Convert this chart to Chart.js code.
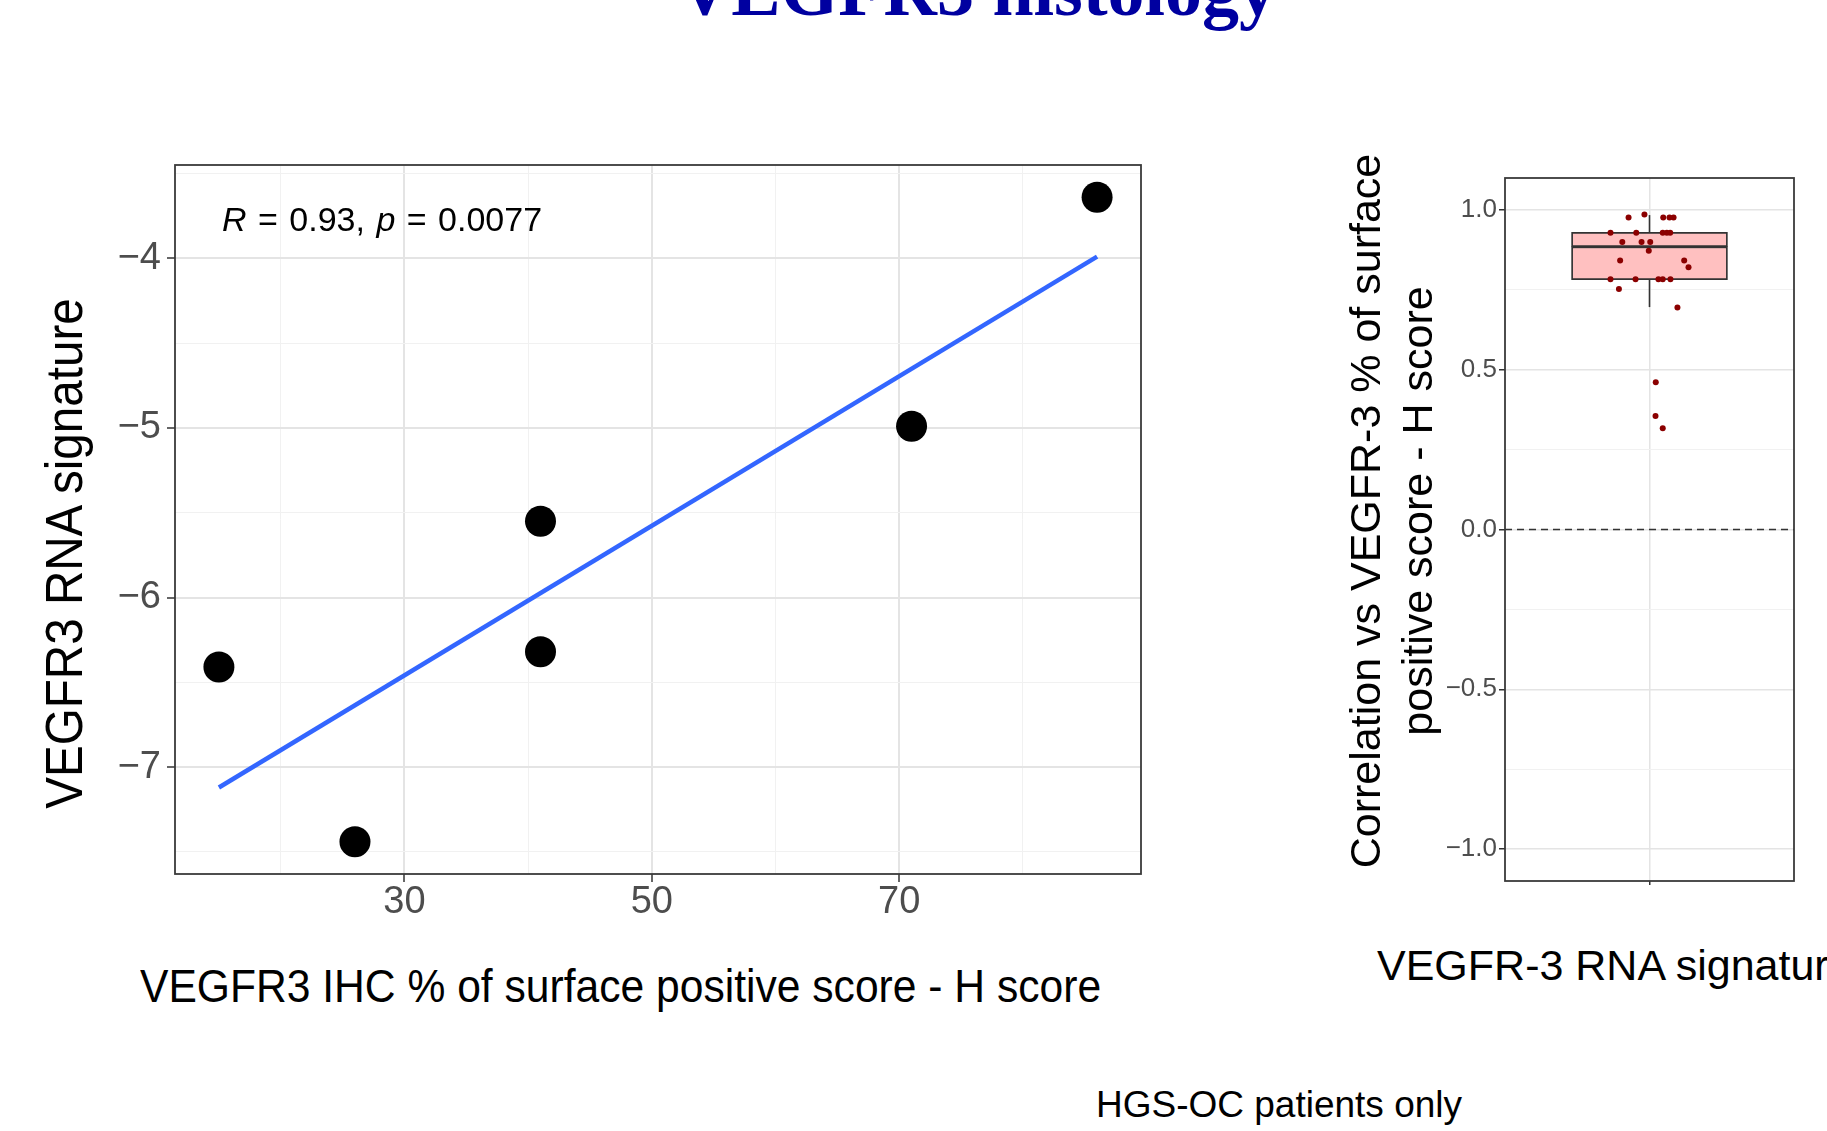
<!DOCTYPE html>
<html>
<head>
<meta charset="utf-8">
<script src="https://cdn.jsdelivr.net/npm/chart.js"></script>
<style>
  html, body { margin: 0; padding: 0; width: 1827px; height: 1131px; overflow: hidden; background: #fff; }
  body { font-family: "Liberation Sans", Arial, sans-serif; }
  .box { position: absolute; }
  .txt { position: absolute; white-space: nowrap; color: #000; transform-origin: 0 0; }
</style>
</head>
<body>

<div class="txt" id="pageTitle" style="left:577px;top:-47px;width:800px;text-align:center;font-family:'Liberation Serif',serif;font-weight:bold;font-size:74px;line-height:74px;color:#0000A0">VEGFR3 histology</div>

<div class="box" style="left:0;top:100px;width:1160px;height:820px"><canvas id="chart-scatter"></canvas></div>
<div class="box" style="left:1300px;top:100px;width:527px;height:820px"><canvas id="chart-box"></canvas></div>

<!-- axis titles and notes -->
<div class="txt" style="left:33px;top:828px;width:600px;text-align:center;font-size:52px;line-height:62px;transform:rotate(-90deg) scaleX(0.915)">VEGFR3 RNA signature</div>
<div class="txt" style="left:140px;top:958px;font-size:46px;line-height:56px;transform:scaleX(0.926)">VEGFR3 IHC % of surface positive score - H score</div>
<div class="txt" style="left:222px;top:199px;font-size:34px;line-height:40px;word-spacing:2px"><i>R</i> = 0.93, <i>p</i> = 0.0077</div>
<div class="txt" style="left:1339px;top:911px;width:800px;text-align:center;font-size:43px;line-height:52px;transform:rotate(-90deg)">Correlation vs VEGFR-3 % of surface<br>positive score - H score</div>
<div class="txt" style="left:1377px;top:939px;font-size:43px;line-height:52px">VEGFR-3 RNA signature</div>
<div class="txt" style="left:1096px;top:1082px;font-size:37px;line-height:46px">HGS-OC patients only</div>

<script>
// left panel: IHC score vs RNA signature
var ihcScore = [15, 26, 41, 41, 71, 86];
var rnaSignature = [-6.41, -7.44, -5.55, -6.32, -4.99, -3.64];
var fitX = [15, 86];
var fitY = [-7.12, -3.99];
var xGridLeft = [20, 30, 40, 50, 60, 70, 80];
var xLabelsLeft = [30, 50, 70];
var yGridLeft = [-7.5, -7, -6.5, -6, -5.5, -5, -4.5, -4, -3.5];
var yLabelsLeft = [-7, -6, -5, -4];

// right panel: correlations per signature gene, jittered
var corrJitter = [0.913, 0.979, 1.057, 1.083, 1.100, 0.838, 0.945, 1.055, 1.072, 1.086,
                  0.887, 0.967, 1.003, 0.997, 0.878, 1.144, 1.162, 0.838, 0.942, 1.037,
                  1.055, 1.087, 0.873, 1.116, 1.026, 1.025, 1.055];
var corrValues = [0.976, 0.986, 0.976, 0.976, 0.976, 0.929, 0.929, 0.929, 0.929, 0.929,
                  0.900, 0.900, 0.900, 0.872, 0.842, 0.842, 0.821, 0.783, 0.783, 0.783,
                  0.783, 0.783, 0.753, 0.695, 0.461, 0.355, 0.317];
var boxQuartiles = [0.782, 0.885, 0.930];   // q1, median, q3
var boxWhiskers = [0.696, 0.984];
var yGridRight = [-1, -0.75, -0.5, -0.25, 0, 0.25, 0.5, 0.75, 1];
var yLabelsRight = [-1, -0.5, 0, 0.5, 1];

// R style labels with a real minus sign
var fmt = function (v, digits) {
    var s = digits ? Math.abs(v).toFixed(digits) : String(Math.abs(v));
    return v < 0 ? '\u2212' + s : s;
};

// ggplot style panel frame
var panelBorder = {
    id: 'panelBorder',
    afterDraw: function (chart) {
        var a = chart.chartArea;
        var ctx = chart.ctx;
        ctx.save();
        ctx.strokeStyle = '#3a3a3a';
        ctx.lineWidth = 1.8;
        ctx.strokeRect(a.left, a.top, a.right - a.left, a.bottom - a.top);
        ctx.restore();
    }
};

function gridOpts(majors, tickLen, majorW, minorW) {
    var isMajor = function (c) { return c.tick && majors.indexOf(c.tick.value) > -1; };
    return {
        color: function (c) { return isMajor(c) ? '#E4E4E4' : '#F1F1F1'; },
        lineWidth: function (c) { return isMajor(c) ? majorW : minorW; },
        tickColor: function (c) { return isMajor(c) ? '#333333' : 'rgba(0,0,0,0)'; },
        tickLength: tickLen,
        tickWidth: 1.5
    };
}

Chart.defaults.font.family = "'Liberation Sans', Arial, sans-serif";
Chart.defaults.animation = false;

var ctx1 = document.getElementById('chart-scatter').getContext('2d');
new Chart(ctx1, {
    type: 'scatter',
    data: {
        datasets: [
            {
                data: ihcScore.map(function (x, i) { return {x: x, y: rnaSignature[i]}; }),
                pointRadius: 15.5,
                pointHoverRadius: 15.5,
                backgroundColor: '#000000',
                borderWidth: 0,
                order: 0
            },
            {
                type: 'line',
                data: fitX.map(function (x, i) { return {x: x, y: fitY[i]}; }),
                borderColor: '#3366FF',
                borderWidth: 4.5,
                pointRadius: 0,
                fill: false,
                order: 1
            }
        ]
    },
    options: {
        responsive: true,
        maintainAspectRatio: false,
        layout: {padding: {top: 65, right: 19, left: 0, bottom: 0}},
        plugins: {legend: {display: false}, tooltip: {enabled: false}},
        scales: {
            x: {
                type: 'linear', min: 11.45, max: 89.55,
                afterBuildTicks: function (s) { s.ticks = xGridLeft.map(function (v) { return {value: v}; }); },
                afterFit: function (s) { s.height = 46; },
                border: {display: false},
                grid: gridOpts(xLabelsLeft, 8, 2, 1),
                ticks: {
                    autoSkip: false, maxRotation: 0, padding: 2, color: '#4D4D4D',
                    font: {size: 38, lineHeight: 1},
                    callback: function (v) { return xLabelsLeft.indexOf(v) > -1 ? String(v) : ''; }
                }
            },
            y: {
                type: 'linear', min: -7.63, max: -3.45,
                afterBuildTicks: function (s) { s.ticks = yGridLeft.map(function (v) { return {value: v}; }); },
                afterFit: function (s) { s.width = 175; },
                border: {display: false},
                grid: gridOpts(yLabelsLeft, 8, 2, 1),
                ticks: {
                    autoSkip: false, padding: 6, color: '#4D4D4D',
                    font: {size: 38, lineHeight: 1},
                    callback: function (v) { return yLabelsLeft.indexOf(v) > -1 ? fmt(v) : ''; }
                }
            }
        }
    },
    plugins: [panelBorder]
});

var ctx2 = document.getElementById('chart-box').getContext('2d');
new Chart(ctx2, {
    type: 'bar',
    data: {
        datasets: [
            {
                type: 'scatter',
                data: corrJitter.map(function (x, i) { return {x: x, y: corrValues[i]}; }),
                pointRadius: 3,
                backgroundColor: '#8B0000',
                borderWidth: 0,
                order: 0
            },
            {
                type: 'bar',
                data: [{x: 1, y: [boxQuartiles[0], boxQuartiles[1]]}],
                grouped: false, barThickness: 156,
                backgroundColor: '#FFC0C0', borderColor: '#333333', borderWidth: 1.8, borderSkipped: false,
                order: 1
            },
            {
                type: 'bar',
                data: [{x: 1, y: [boxQuartiles[1], boxQuartiles[2]]}],
                grouped: false, barThickness: 156,
                backgroundColor: '#FFC0C0', borderColor: '#333333', borderWidth: 1.8, borderSkipped: false,
                order: 1
            },
            {
                type: 'line',
                data: [{x: 1, y: boxQuartiles[2]}, {x: 1, y: boxWhiskers[1]}],
                borderColor: '#333333', borderWidth: 1.6, pointRadius: 0,
                order: 2
            },
            {
                type: 'line',
                data: [{x: 1, y: boxWhiskers[0]}, {x: 1, y: boxQuartiles[0]}],
                borderColor: '#333333', borderWidth: 1.6, pointRadius: 0,
                order: 2
            },
            {
                type: 'line',
                data: [{x: 0.4, y: 0}, {x: 1.6, y: 0}],
                borderColor: '#333333', borderWidth: 1.5, borderDash: [7, 5], pointRadius: 0,
                order: 3
            }
        ]
    },
    options: {
        responsive: true,
        maintainAspectRatio: false,
        layout: {padding: {top: 78, right: 33, left: 0, bottom: 0}},
        plugins: {legend: {display: false}, tooltip: {enabled: false}},
        scales: {
            x: {
                type: 'linear', min: 0.4, max: 1.6, offset: false,
                afterBuildTicks: function (s) { s.ticks = [{value: 1}]; },
                afterFit: function (s) { s.height = 39; },
                border: {display: false},
                grid: Object.assign(gridOpts([1], 4, 1.5, 1), {offset: false}),
                ticks: {autoSkip: false, maxRotation: 0, callback: function () { return ''; }}
            },
            y: {
                type: 'linear', min: -1.1, max: 1.1,
                afterBuildTicks: function (s) { s.ticks = yGridRight.map(function (v) { return {value: v}; }); },
                afterFit: function (s) { s.width = 205; },
                border: {display: false},
                grid: gridOpts(yLabelsRight, 6, 1.5, 1),
                ticks: {
                    autoSkip: false, padding: 2, color: '#4D4D4D',
                    font: {family: "'Liberation Sans Narrow', 'Liberation Sans', sans-serif", size: 26, lineHeight: 1},
                    callback: function (v) { return yLabelsRight.indexOf(v) > -1 ? fmt(v, 1) : ''; }
                }
            }
        }
    },
    plugins: [panelBorder]
});
</script>
</body>
</html>
